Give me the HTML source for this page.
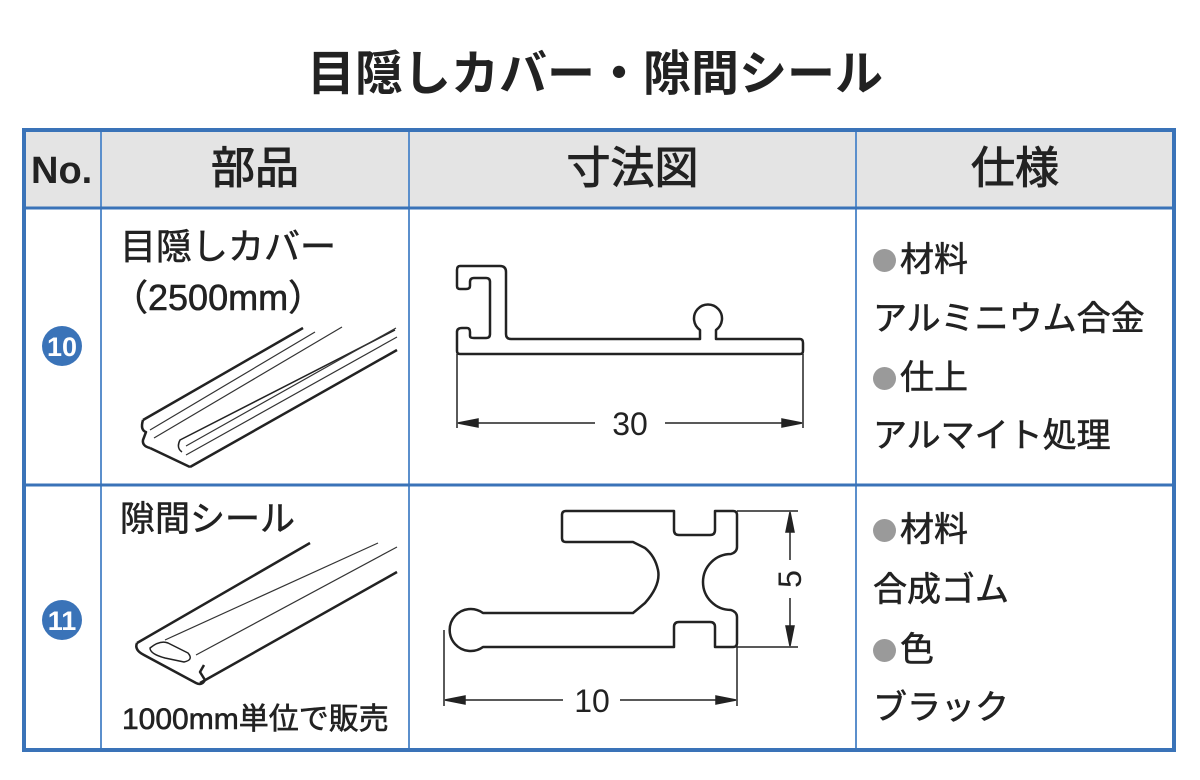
<!DOCTYPE html>
<html><head><meta charset="utf-8"><style>
body{margin:0;width:1200px;height:780px;background:#fff;position:relative;overflow:hidden;font-family:"Liberation Sans","Noto Sans CJK JP",sans-serif;color:#222}
.t{position:absolute;white-space:nowrap;line-height:1;-webkit-text-stroke:0.6px #222}
.b{display:inline-block;width:23px;height:23px;border-radius:50%;background:#9a9a9a;margin-right:4px;vertical-align:-1px}
</style></head><body>
<div class="t" style="left:0;width:1190px;text-align:center;top:51px;font-size:48px;font-weight:bold;-webkit-text-stroke:0">目隠しカバー・隙間シール</div>
<svg width="1200" height="780" style="position:absolute;left:0;top:0">
<rect x="24" y="130" width="1150" height="620" fill="#fff"/>
<rect x="24" y="130" width="1150" height="78" fill="#e4e4e4"/>
<g stroke="#5b8fcc" stroke-width="2">
<line x1="101" y1="130" x2="101" y2="750"/>
<line x1="409" y1="130" x2="409" y2="750"/>
<line x1="856" y1="130" x2="856" y2="750"/>
</g>
<g stroke="#3a73b8" stroke-width="3">
<line x1="24" y1="208" x2="1174" y2="208"/>
<line x1="24" y1="485" x2="1174" y2="485"/>
</g>
<rect x="24" y="130" width="1150" height="620" fill="none" stroke="#3a73b8" stroke-width="4"/>
<circle cx="62" cy="346" r="20" fill="#3a73b8"/>
<circle cx="62" cy="620" r="20" fill="#3a73b8"/>
<text x="62" y="356" text-anchor="middle" font-size="27" font-weight="bold" fill="#fff" font-family="Liberation Sans">10</text>
<text x="62" y="630" text-anchor="middle" font-size="27" font-weight="bold" fill="#fff" font-family="Liberation Sans">11</text>
<g fill="none" stroke="#222" stroke-width="2.5" stroke-linejoin="round">
<path d="M460 266 H500 Q506 266 506 272 V334 Q506 339 511 339 H700 V330 A14 14 0 1 1 716 330 V339 H800 Q803 339 803 343 V351 Q803 354 800 354 H460 Q457 354 457 351 V332 Q457 328 462 328 H467 Q470 328 470 332 V336 Q470 338 474 338 H486 Q490 338 490 334 V282 Q490 278 486 278 H474 Q470 278 470 282 V286 Q470 289 466 289 H460 Q457 289 457 286 V270 Q457 266 460 266 Z"/>
<path d="M566 511 H674 V530 Q674 535 679 535 H710 Q715 535 715 530 V511 H733 Q737 511 737 515 V547 Q737 552 731 554 A26 26 0 0 0 731 610 Q737 612 737 617 V643 Q737 647 733 647 H715 V627 Q715 622 710 622 H679 Q674 622 674 627 V647 H483 A21 21 0 1 1 483 613 H633 L645 603 Q661 585 658 570 Q655 556 645 548 L633 542 H566 Q562 542 562 538 V515 Q562 511 566 511 Z"/>
<path d="M143 420 L303 328"/>
<path d="M143 420 Q140 430 146 432 L143 440 Q142 446 150 448"/>
<path d="M150 448 L190 467"/>
<path d="M190 467 L397 350"/>
<path d="M182 452 Q176 448 180 440 L395 330" stroke-width="1.5"/>
</g>
<g fill="none" stroke="#333" stroke-width="1.2">
<path d="M150 430 L315 332"/><path d="M154 438 L342 327"/>
<path d="M186 446 L396 328"/><path d="M186 455 L397 337"/>
</g>
<g fill="none" stroke="#222" stroke-width="2.5" stroke-linejoin="round">
<path d="M137 643 L310 543"/>
<path d="M137 643 Q134 650 144 655 L196 683 Q202 686 205 680 L200 672 L204 665"/>
<path d="M200 683 L397 572"/>
<path d="M150 648 Q160 640 168 643 L188 653 Q194 660 184 662 L165 658 Q150 654 150 648Z" stroke-width="1.5"/>
</g>
<g fill="none" stroke="#333" stroke-width="1.2">
<path d="M165 640 L378 543"/><path d="M196 655 L397 547"/>
</g>
<g stroke="#222" stroke-width="1.5" fill="#222">
<line x1="457" y1="354" x2="457" y2="428"/><line x1="803" y1="354" x2="803" y2="428"/>
<line x1="460" y1="423" x2="595" y2="423"/><line x1="665" y1="423" x2="800" y2="423"/>
<path d="M458 423 L478 419 L478 427Z"/><path d="M802 423 L782 419 L782 427Z"/>
<line x1="737" y1="511" x2="798" y2="511"/><line x1="737" y1="647" x2="798" y2="647"/>
<line x1="790" y1="513" x2="790" y2="560"/><line x1="790" y1="598" x2="790" y2="645"/>
<path d="M790 512 L786 532 L794 532Z"/><path d="M790 646 L786 626 L794 626Z"/>
<line x1="444" y1="630" x2="444" y2="706"/><line x1="737" y1="647" x2="737" y2="706"/>
<line x1="446" y1="700" x2="563" y2="700"/><line x1="620" y1="700" x2="735" y2="700"/>
<path d="M445 700 L465 696 L465 704Z"/><path d="M736 700 L716 696 L716 704Z"/>
</g>
<text x="630" y="435" text-anchor="middle" font-size="32" fill="#222" font-family="Liberation Sans">30</text>
<text x="592" y="712" text-anchor="middle" font-size="32" fill="#222" font-family="Liberation Sans">10</text>
<text x="0" y="0" text-anchor="middle" font-size="32" fill="#222" font-family="Liberation Sans" transform="translate(801 579) rotate(-90)">5</text>
</svg>
<div class="t" style="left:31px;top:152px;font-size:38px;font-weight:bold;-webkit-text-stroke:0">No.</div>
<div class="t" style="left:101px;width:308px;text-align:center;top:147px;font-size:44px;-webkit-text-stroke:1px #222">部品</div>
<div class="t" style="left:409px;width:447px;text-align:center;top:147px;font-size:44px;-webkit-text-stroke:1px #222">寸法図</div>
<div class="t" style="left:856px;width:318px;text-align:center;top:147px;font-size:44px;-webkit-text-stroke:1px #222">仕様</div>
<div class="t" style="left:120px;top:229px;font-size:36px">目隠しカバー</div>
<div class="t" style="left:112px;top:280px;font-size:36px">（2500mm）</div>
<div class="t" style="left:120px;top:502px;font-size:35px">隙間シール</div>
<div class="t" style="left:122px;top:705px;font-size:30px">1000mm単位で販売</div>
<div class="t" style="left:873px;top:243px;font-size:34px"><span class="b"></span>材料</div>
<div class="t" style="left:873px;top:302px;font-size:34px">アルミニウム合金</div>
<div class="t" style="left:873px;top:361px;font-size:34px"><span class="b"></span>仕上</div>
<div class="t" style="left:873px;top:419px;font-size:34px">アルマイト処理</div>
<div class="t" style="left:873px;top:513px;font-size:34px"><span class="b"></span>材料</div>
<div class="t" style="left:873px;top:573px;font-size:34px">合成ゴム</div>
<div class="t" style="left:873px;top:633px;font-size:34px"><span class="b"></span>色</div>
<div class="t" style="left:873px;top:691px;font-size:34px">ブラック</div>
</body></html>
